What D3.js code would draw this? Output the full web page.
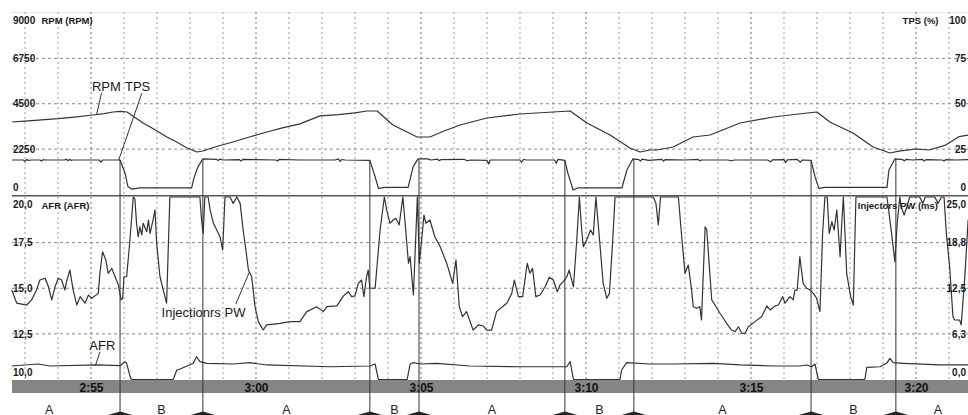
<!DOCTYPE html>
<html>
<head>
<meta charset="utf-8">
<script src="https://cdn.jsdelivr.net/npm/d3@7"></script>
<style>
  body { margin: 0; background: #fff; }
  svg { display: block; font-family: "Liberation Sans", Arial, sans-serif; }
</style>
</head>
<body>
<div id="chart"></div>
<script>
/* engine log: RPM / TPS on top, AFR / injector PW below */

// time in seconds (175 = 2:55)
const timeTicks = [175, 180, 185, 190, 195, 200];
const rpmTicks = [0, 2250, 4500, 6750, 9000];
const tpsTicks = [0, 25, 50, 75, 100];
const afrTicks = [10, 12.5, 15, 17.5, 20];
const pwTicks = [0, 6.25, 12.5, 18.75, 25];

const rpmTime = [172.61, 173.0, 173.5, 174.0, 174.5, 175.06, 175.4, 175.67, 175.9, 176.09, 176.3, 176.58, 176.9, 177.3, 177.6, 177.91, 178.21, 178.39, 178.8, 179.3, 179.8, 180.33, 180.8, 181.33, 181.94, 182.5, 183.0, 183.36, 183.67, 184.15, 184.88, 185.27, 185.7, 186.18, 187.0, 188.0, 189.0, 189.52, 190.03, 190.73, 191.33, 191.64, 191.94, 192.15, 192.64, 193.24, 193.76, 194.67, 195.67, 196.7, 197.0, 197.39, 198.09, 198.7, 199.21, 199.48, 200.0, 200.4, 200.9, 201.3, 201.58];
const rpmValues = [3595, 3640, 3700, 3760, 3840, 3942, 4010, 4091, 4120, 4091, 3850, 3546, 3250, 2851, 2600, 2306, 2108, 2157, 2380, 2603, 2850, 3099, 3300, 3500, 3900, 3960, 4050, 4141, 4141, 3446, 2851, 2851, 3150, 3446, 3793, 3992, 4091, 4141, 3546, 2950, 2306, 2108, 2207, 2207, 2355, 2851, 2950, 3546, 3843, 4041, 4091, 3595, 3050, 2355, 2058, 2150, 2256, 2207, 2450, 2867, 2950];

const tpsTime = [172.61, 172.95, 173.0, 173.05, 173.1, 173.2, 173.45, 173.5, 173.55, 173.6, 174.2, 174.25, 174.3, 174.35, 174.4, 174.45, 175.25, 175.3, 175.35, 175.88, 176.03, 176.12, 176.23, 176.48, 178.05, 178.12, 178.24, 178.39, 178.8, 178.85, 178.9, 179.0, 179.5, 179.55, 179.6, 180.6, 180.65, 180.7, 181.3, 182.4, 182.5, 182.55, 182.6, 182.7, 183.45, 183.61, 183.71, 183.91, 184.61, 184.76, 184.91, 185.2, 185.3, 185.5, 185.55, 185.6, 186.3, 186.4, 186.5, 187.0, 187.05, 187.1, 188.0, 188.05, 188.1, 188.2, 189.05, 189.1, 189.15, 189.36, 189.45, 189.61, 189.76, 191.09, 191.24, 191.42, 191.6, 191.65, 191.7, 191.9, 192.3, 192.35, 192.4, 193.0, 193.4, 193.45, 193.5, 194.3, 194.4, 194.5, 195.5, 195.6, 195.65, 196.0, 196.05, 196.1, 196.4, 196.5, 196.55, 196.82, 196.94, 197.06, 197.24, 199.12, 199.18, 199.36, 199.6, 199.65, 199.7, 199.9, 200.2, 200.25, 200.3, 200.8, 200.85, 200.9, 201.2, 201.58];
const tpsValues = [19.0, 19.0, 18.3, 19.4, 18.8, 19.0, 19.0, 18.4, 19.2, 19.0, 19.0, 19.5, 18.6, 19.4, 18.8, 19.0, 19.0, 17.8, 19.0, 19.0, 11.8, 4.3, 3.0, 3.7, 3.7, 9.1, 15.2, 19.6, 19.4, 18.7, 19.5, 19.0, 19.2, 18.5, 19.3, 19.0, 18.4, 19.3, 19.0, 19.0, 19.6, 18.2, 19.3, 19.0, 18.8, 9.8, 3.4, 3.9, 3.9, 15.2, 19.6, 19.6, 19.0, 19.5, 18.6, 19.2, 19.4, 18.6, 19.0, 18.8, 16.8, 19.0, 19.0, 17.8, 19.3, 19.0, 19.0, 17.2, 19.4, 18.8, 11.8, 2.5, 3.7, 3.7, 13.5, 19.6, 19.2, 18.4, 19.5, 18.8, 19.3, 18.4, 19.2, 19.0, 19.3, 18.6, 19.0, 19.0, 18.6, 19.0, 19.0, 18.0, 19.1, 19.2, 17.6, 19.1, 19.3, 17.8, 19.0, 18.8, 9.8, 3.4, 3.9, 3.9, 13.5, 19.6, 19.2, 18.5, 19.4, 19.0, 19.3, 18.4, 19.2, 19.0, 18.5, 19.2, 19.0, 19.2];

const afrTime = [172.60, 172.75, 173.05, 173.20, 173.35, 173.45, 173.61, 173.71, 173.81, 173.91, 174.01, 174.11, 174.21, 174.26, 174.36, 174.46, 174.57, 174.67, 174.82, 174.92, 175.02, 175.22, 175.27, 175.35, 175.45, 175.52, 175.63, 175.73, 175.83, 175.91, 175.96, 176.00, 176.08, 176.18, 176.28, 176.33, 176.38, 176.43, 176.48, 176.54, 176.58, 176.69, 176.74, 176.79, 176.89, 176.94, 176.99, 177.09, 177.19, 177.29, 177.39, 178.30, 178.35, 178.40, 178.45, 178.55, 178.61, 178.71, 178.91, 178.99, 179.06, 179.21, 179.31, 179.42, 179.52, 179.61, 179.72, 179.77, 179.87, 179.97, 180.07, 180.22, 180.32, 180.73, 181.03, 181.33, 181.54, 181.84, 182.04, 182.15, 182.45, 182.65, 182.80, 182.90, 183.00, 183.10, 183.20, 183.27, 183.35, 183.40, 183.45, 183.61, 183.76, 183.89, 183.96, 184.06, 184.16, 184.24, 184.34, 184.45, 184.52, 184.62, 184.67, 184.77, 184.89, 184.95, 185.02, 185.09, 185.15, 185.27, 185.42, 185.58, 185.78, 185.96, 186.06, 186.16, 186.26, 186.38, 186.58, 186.74, 186.89, 186.99, 187.14, 187.29, 187.60, 187.75, 187.83, 187.95, 188.08, 188.22, 188.30, 188.38, 188.48, 188.61, 188.76, 188.89, 189.01, 189.13, 189.21, 189.31, 189.42, 189.49, 189.62, 189.72, 189.80, 189.87, 189.92, 190.02, 190.14, 190.22, 190.30, 190.42, 190.52, 190.63, 190.71, 190.81, 190.88, 192.04, 192.12, 192.19, 192.26, 192.80, 192.90, 193.00, 193.10, 193.20, 193.25, 193.35, 193.45, 193.50, 193.61, 193.66, 193.81, 193.91, 194.06, 194.26, 194.41, 194.52, 194.62, 194.72, 194.82, 194.92, 195.12, 195.32, 195.48, 195.58, 195.73, 195.83, 195.96, 196.03, 196.18, 196.28, 196.33, 196.40, 196.48, 196.58, 196.69, 196.79, 196.89, 196.99, 197.09, 197.17, 197.24, 197.31, 197.37, 197.45, 197.52, 197.60, 197.70, 197.75, 197.80, 197.90, 198.02, 198.10, 198.18, 199.12, 199.26, 199.36, 199.43, 199.51, 199.55, 199.64, 199.71, 199.81, 200.11, 200.21, 200.28, 200.57, 200.67, 200.77, 200.85, 200.92, 201.02, 201.12, 201.17, 201.32, 201.37, 201.48, 201.58];
const afrValues = [14.90, 14.18, 14.08, 14.36, 14.90, 15.45, 15.55, 15.08, 14.36, 15.08, 15.55, 15.45, 14.90, 15.36, 16.00, 14.90, 14.08, 14.54, 14.18, 14.63, 14.45, 14.72, 15.82, 17.00, 16.55, 15.82, 16.09, 15.63, 15.18, 14.36, 14.45, 15.63, 15.63, 17.64, 20.00, 19.90, 18.56, 17.82, 18.37, 17.92, 18.56, 18.10, 18.74, 18.01, 18.83, 19.29, 17.46, 15.63, 14.90, 14.18, 20.00, 20.00, 18.74, 18.01, 20.00, 20.00, 19.29, 18.56, 17.82, 17.10, 20.00, 20.00, 19.65, 20.00, 19.65, 18.19, 16.73, 16.00, 15.63, 13.99, 13.17, 12.71, 12.99, 13.08, 13.17, 13.17, 13.72, 13.99, 13.72, 13.99, 14.03, 14.58, 14.81, 14.54, 14.58, 15.27, 15.45, 14.54, 15.63, 16.00, 15.00, 15.00, 18.19, 20.00, 19.29, 18.56, 18.74, 18.83, 18.47, 20.00, 18.56, 16.37, 16.73, 14.63, 20.00, 16.37, 17.64, 19.01, 18.56, 18.74, 17.82, 17.28, 16.37, 15.27, 16.55, 13.99, 13.44, 13.72, 12.71, 12.99, 12.93, 12.71, 12.71, 13.72, 14.18, 14.72, 15.45, 14.54, 14.54, 16.37, 15.82, 16.09, 14.54, 14.63, 15.08, 15.60, 15.45, 14.81, 15.18, 15.36, 15.63, 16.00, 15.08, 17.64, 20.00, 18.19, 17.28, 17.64, 18.19, 17.92, 20.00, 17.46, 15.27, 14.45, 14.72, 17.64, 20.00, 20.00, 19.65, 18.47, 20.00, 20.00, 17.82, 15.82, 16.27, 14.90, 13.99, 13.90, 13.99, 13.26, 18.37, 18.19, 14.36, 14.08, 13.63, 13.08, 12.71, 12.62, 12.89, 12.53, 12.53, 12.89, 13.17, 13.44, 14.03, 13.81, 14.03, 14.08, 14.54, 14.18, 14.54, 14.36, 14.90, 14.90, 16.73, 15.27, 15.00, 14.90, 14.72, 14.45, 13.72, 18.01, 20.00, 20.00, 18.01, 18.65, 18.19, 19.29, 16.73, 18.56, 20.00, 15.82, 14.54, 14.08, 20.00, 20.00, 18.01, 16.45, 18.56, 20.00, 19.47, 19.01, 19.38, 20.00, 20.00, 19.65, 20.00, 20.00, 19.65, 20.00, 20.00, 18.01, 16.18, 13.44, 13.26, 13.26, 12.99, 15.63, 18.74];

const pwTime = [172.60, 173.40, 173.76, 175.17, 175.88, 176.03, 176.08, 176.20, 176.25, 177.49, 177.60, 177.70, 178.10, 178.20, 178.30, 178.51, 179.31, 179.82, 180.32, 182.24, 183.45, 183.61, 183.71, 184.58, 184.67, 184.77, 184.97, 185.48, 186.48, 188.00, 189.42, 189.52, 189.62, 191.03, 191.08, 191.23, 191.94, 192.64, 193.86, 194.67, 195.68, 196.48, 196.69, 196.84, 196.94, 197.04, 198.45, 198.51, 198.91, 199.11, 199.21, 199.31, 199.61, 200.73, 201.58];
const pwValues = [1.85, 2.12, 1.85, 1.99, 1.89, 2.44, 2.22, 0.16, 0, 0, 1.30, 1.44, 2.22, 3.12, 2.44, 2.22, 2.12, 2.30, 1.99, 1.75, 1.85, 2.12, 0, 0, 2.12, 2.30, 2.12, 2.22, 1.85, 1.75, 1.75, 2.44, 0, 0, 1.30, 2.30, 2.12, 2.12, 2.22, 1.99, 1.85, 1.85, 1.99, 1.75, 2.12, 0, 0, 1.67, 1.75, 2.22, 2.90, 2.30, 2.22, 1.99, 1.99];

// throttle phases, A = open, B = closed
const segEdges = [171.58, 175.88, 178.39, 183.45, 184.94, 189.36, 191.45, 196.82, 199.39, 201.94];
const segLabels = ["A", "B", "A", "B", "A", "B", "A", "B", "A"];

/* SET UP */
const width = 968, height = 415,
      left = 12, right = 968,
      top1 = 13, bot1 = 194.5,     // RPM / TPS panel
      top2 = 197, bot2 = 379.5;    // AFR / PW panel

const svg = d3.select("#chart")
    .append("svg")
    .attr("width", width)
    .attr("height", height)
    .attr("viewBox", [0, 0, width, height]);

const x = d3.scaleLinear().domain([172.606, 201.576]).range([left, right]);
const yRpm = d3.scaleLinear().domain([0, 9000]).range([bot1, top1]);
const yTps = d3.scaleLinear().domain([0, 100]).range([bot1, top1]);
const yAfr = d3.scaleLinear().domain([10, 20]).range([bot2, top2]);
const yPw = d3.scaleLinear().domain([0, 25]).range([bot2, top2]);

const zip = (ts, vs) => ts.map((t, i) => [t, vs[i]]);
const rpm = zip(rpmTime, rpmValues),
      tps = zip(tpsTime, tpsValues),
      afr = zip(afrTime, afrValues),
      pw = zip(pwTime, pwValues);

// linear read of a series at time t
const valueAt = (data, t) => {
    const i = d3.bisector(d => d[0]).left(data, t);
    if (i <= 0) return data[0][1];
    if (i >= data.length) return data[data.length - 1][1];
    const a = data[i - 1], b = data[i];
    return a[1] + (b[1] - a[1]) * (t - a[0]) / (b[0] - a[0]);
};

const fmtTime = t => Math.floor(t / 60) + ":" + String(t % 60).padStart(2, "0");
const fmtComma = d => d.toFixed(1).replace(".", ",");
const fmtInt = d3.format("d");

/* GRID */
const grid = svg.append("g");

grid.append("line")
    .attr("x1", left).attr("x2", right)
    .attr("y1", 12.5).attr("y2", 12.5)
    .attr("stroke", "#e4e4e4");

grid.selectAll(".vgrid")
    .data(d3.range(173, 202))
    .join("line")
    .attr("x1", d => x(d)).attr("x2", d => x(d))
    .attr("y1", 12).attr("y2", bot2)
    .attr("stroke", d => d % 5 === 0 ? "#6e6e6e" : "#a0a0a0")
    .attr("stroke-dasharray", "2,3");

grid.selectAll(".hgrid1")
    .data(rpmTicks.slice(1, -1))
    .join("line")
    .attr("x1", left).attr("x2", right)
    .attr("y1", d => yRpm(d)).attr("y2", d => yRpm(d))
    .attr("stroke", "#888")
    .attr("stroke-dasharray", "3,3");

grid.selectAll(".hgrid2")
    .data(afrTicks.slice(1, -1))
    .join("line")
    .attr("x1", left).attr("x2", right)
    .attr("y1", d => yAfr(d)).attr("y2", d => yAfr(d))
    .attr("stroke", "#888")
    .attr("stroke-dasharray", "3,3");

// time band
svg.append("rect")
    .attr("x", left).attr("y", bot2 + 0.5)
    .attr("width", right - left).attr("height", 13)
    .attr("fill", "#858585");

// panel separator
svg.append("line")
    .attr("x1", left).attr("x2", right)
    .attr("y1", (bot1 + top2) / 2).attr("y2", (bot1 + top2) / 2)
    .attr("stroke", "#555").attr("stroke-width", 1.5);

/* SERIES */
const drawLine = (data, y) => svg.append("path")
    .datum(data)
    .attr("fill", "none")
    .attr("stroke", "#333")
    .attr("stroke-width", 1.2)
    .attr("stroke-linejoin", "round")
    .attr("d", d3.line().x(d => x(d[0])).y(d => y(d[1])));

drawLine(rpm, yRpm);
drawLine(tps, yTps);
drawLine(afr, yAfr);
drawLine(pw, yPw);

/* PHASE MARKERS */
const inner = segEdges.slice(1, -1);

svg.selectAll(".marker")
    .data(inner)
    .join("line")
    .attr("x1", d => x(d)).attr("x2", d => x(d))
    .attr("y1", d => yTps(valueAt(tps, d))).attr("y2", height)
    .attr("stroke", "#333")
    .attr("stroke-width", 1);

// arrow heads pointing away from each marker (lower half falls off the page)
svg.selectAll(".arrow")
    .data(inner.flatMap(d => [[d, -1], [d, 1]]))
    .join("path")
    .attr("d", ([t, s]) => {
        const px = x(t);
        return `M${px},411.5 L${px + s * 14},415.5 L${px},419.5 Z`;
    })
    .attr("fill", "#222");

svg.selectAll(".seg")
    .data(segLabels)
    .join("text")
    .attr("x", (d, i) => x((segEdges[i] + segEdges[i + 1]) / 2))
    .attr("y", 413.5)
    .attr("text-anchor", "middle")
    .attr("font-size", 12.5)
    .attr("fill", "#222")
    .text(d => d);

/* AXES */
const styleAxis = (g, dom) => {
    g.select(".domain").remove();
    g.attr("font-family", null).attr("font-size", null);
    g.selectAll(".tick text")
        .attr("font-size", 10)
        .attr("font-weight", "bold")
        .attr("fill", "#1a1a1a")
        .attr("y", d => d === dom[1] ? 7 : d === dom[0] ? -7.5 : 0);
};

svg.append("g")
    .attr("transform", `translate(${left + 1},0)`)
    .call(d3.axisRight(yRpm).tickValues(rpmTicks).tickSize(0).tickPadding(0).tickFormat(fmtInt))
    .call(g => styleAxis(g, yRpm.domain()));

svg.append("g")
    .attr("transform", `translate(${right - 2},0)`)
    .call(d3.axisLeft(yTps).tickValues(tpsTicks).tickSize(0).tickPadding(0).tickFormat(fmtInt))
    .call(g => styleAxis(g, yTps.domain()));

svg.append("g")
    .attr("transform", `translate(${left + 1},0)`)
    .call(d3.axisRight(yAfr).tickValues(afrTicks).tickSize(0).tickPadding(0).tickFormat(fmtComma))
    .call(g => styleAxis(g, yAfr.domain()));

svg.append("g")
    .attr("transform", `translate(${right - 2},0)`)
    .call(d3.axisLeft(yPw).tickValues(pwTicks).tickSize(0).tickPadding(0).tickFormat(fmtComma))
    .call(g => styleAxis(g, yPw.domain()));

svg.append("g")
    .attr("transform", `translate(0,${bot2 + 0.5})`)
    .call(d3.axisBottom(x).tickValues(timeTicks).tickFormat(fmtTime).tickSize(0).tickPadding(3))
    .call(g => {
        g.select(".domain").remove();
        g.selectAll(".tick text")
            .attr("font-size", 12)
            .attr("font-weight", "bold")
            .attr("font-family", "'Liberation Sans', Arial, sans-serif")
            .attr("fill", "#111");
    });

// axis titles
const title = (txt, px, py, anchor) => svg.append("text")
    .attr("x", px).attr("y", py)
    .attr("text-anchor", anchor)
    .attr("font-size", 9.5)
    .attr("font-weight", "bold")
    .attr("fill", "#1a1a1a")
    .text(txt);

title("RPM (RPM)", 41.5, 23.5, "start");
title("TPS (%)", 938.5, 23.5, "end");
title("AFR (AFR)", 41.5, 208.5, "start");
title("Injectors PW (ms)", 938, 208.5, "end");

/* CALLOUTS */
const callout = (txt, tx, ty, from, to) => {
    svg.append("line")
        .attr("x1", from[0]).attr("y1", from[1])
        .attr("x2", to[0]).attr("y2", to[1])
        .attr("stroke", "#333");
    svg.append("text")
        .attr("x", tx).attr("y", ty)
        .attr("font-size", 13)
        .attr("fill", "#1a1a1a")
        .text(txt);
};

callout("RPM", x(175.03), yRpm(5150),
    [x(175.32), yRpm(5050)], [x(175.17), yRpm(valueAt(rpm, 175.17))]);
callout("TPS", x(176.03), yTps(57.3),
    [x(176.54), yTps(55.8)], [x(175.84), yTps(valueAt(tps, 175.84))]);
callout("Injectionrs PW", x(177.14), yAfr(13.45),
    [x(179.39), yAfr(14.14)], [x(179.8), yAfr(valueAt(afr, 179.8))]);
callout("AFR", x(174.95), yPw(4.04),
    [x(175.27), yPw(3.77)], [x(175.14), yPw(valueAt(pw, 175.14))]);
</script>
</body>
</html>
